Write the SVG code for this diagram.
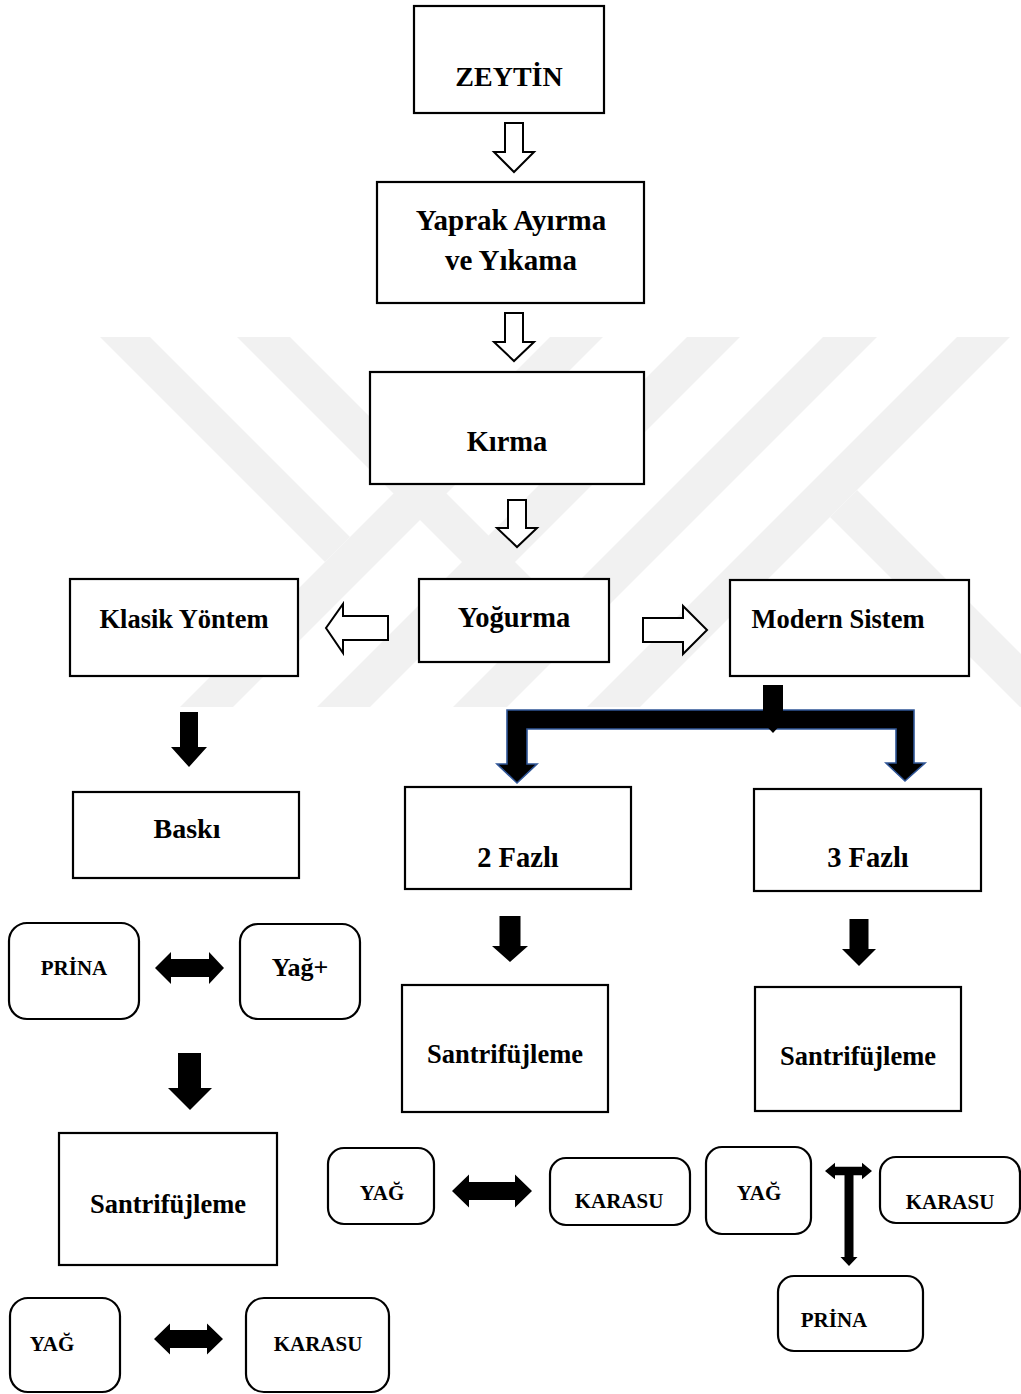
<svg xmlns="http://www.w3.org/2000/svg" width="1021" height="1394" viewBox="0 0 1021 1394">
<style>
.bx{fill:#fff;stroke:#000;stroke-width:2.2}
.rb{fill:#fff;stroke:#000;stroke-width:2.2}
.t{font-family:"Liberation Serif","Times New Roman",serif;font-weight:bold;fill:#000;text-anchor:middle}
.hol{fill:#fff;stroke:#000;stroke-width:2;stroke-linejoin:miter}
.sol{fill:#000;stroke:none}
.wm{fill:#f1f1f1}
</style>
<defs>
<clipPath id="wmclip"><rect x="0" y="337" width="1021" height="370"/></clipPath>
</defs>
<rect width="1021" height="1394" fill="#fff"/>
<g id="watermark" clip-path="url(#wmclip)">
<polygon class="wm" points="100,337 150,337 350,537 325,562"/>
<polygon class="wm" points="550,337 603,337 233,707 180,707"/>
<polygon class="wm" points="237,337 290,337 556,603 530,630"/>
<polygon class="wm" points="823,337 877,337 507,707 453,707"/>
<polygon class="wm" points="687,337 740,337 370,707 317,707"/>
<polygon class="wm" points="957,337 1010,337 640,707 587,707"/>
<polygon class="wm" points="857,490 830,517 1020,707 1074,707"/>
</g>
<g id="connectors">
<polygon class="hol" points="505,123 523,123 523,152 534,152 514,172 494,152 505,152"/>
<polygon class="hol" points="505,313 523,313 523,342 534,342 514,361 494,342 505,342"/>
<polygon class="hol" points="508,500 526,500 526,528 537,528 517,547 497,528 508,528"/>
<polygon class="hol" points="388,616 343,616 343,604 326,628 343,653 343,640 388,640"/>
<polygon class="hol" points="643,618 683,618 683,606 707,630 683,654 683,642 643,642"/>
<polygon points="507,710 914,710 914,763 925,763 905,781 886,763 896,763 896,729 527,729 527,764 537,764 517,783 497,764 507,764" fill="#000" stroke="#2f5597" stroke-width="1.6"/>
<polygon class="sol" points="763,685 783,685 783,711 793,711 773,733 752,711 763,711"/>
<polygon class="sol" points="180,712 198,712 198,747 207,747 189,767 171,747 180,747"/>
<polygon class="sol" points="155,968 171,952 171,959 209,959 209,952 224,968 209,984 209,977 171,977 171,984"/>
<polygon class="sol" points="178,1053 201,1053 201,1088 212,1088 190,1110 168,1088 178,1088"/>
<polygon class="sol" points="499.5,916 520.5,916 520.5,946 528,946 510,962 492,946 499.5,946"/>
<polygon class="sol" points="849.5,919 868.5,919 868.5,949 876,949 859,966 842,949 849.5,949"/>
<polygon class="sol" points="452,1191 469,1174.5 469,1182 515,1182 515,1174.5 532,1191 515,1207.5 515,1200 469,1200 469,1207.5"/>
<polygon class="sol" points="154,1339 170,1323.5 170,1330 207,1330 207,1323.5 223,1339 207,1354.5 207,1348 170,1348 170,1354.5"/>
<polygon class="sol" points="825,1171 835,1162.7 835,1166.8 862,1166.8 862,1162.7 872,1171 862,1179.3 862,1175.2 853.5,1175.2 853.5,1257 857.5,1257 849,1266 840.5,1257 844.5,1257 844.5,1175.2 835,1175.2 835,1179.3"/>
</g>
<g id="n-zeytin"><rect class="bx" x="414" y="6" width="190" height="107"/><text class="t" x="509" y="86" font-size="28">ZEYTİN</text></g>
<g id="n-yaprak"><rect class="bx" x="377" y="182" width="267" height="121"/><text class="t" x="511" y="230" font-size="29">Yaprak Ayırma</text><text class="t" x="511" y="270" font-size="29">ve Yıkama</text></g>
<g id="n-kirma"><rect class="bx" x="370" y="372" width="274" height="112"/><text class="t" x="507" y="451" font-size="28.5">Kırma</text></g>
<g id="n-yogurma"><rect class="bx" x="419" y="579" width="190" height="83"/><text class="t" x="514" y="627" font-size="28.5">Yoğurma</text></g>
<g id="n-klasik"><rect class="bx" x="70" y="579" width="228" height="97"/><text class="t" x="184" y="628" font-size="26.5">Klasik Yöntem</text></g>
<g id="n-modern"><rect class="bx" x="730" y="580" width="239" height="96"/><text class="t" x="838" y="628" font-size="26.5">Modern Sistem</text></g>
<g id="n-baski"><rect class="bx" x="73" y="792" width="226" height="86"/><text class="t" x="187" y="838" font-size="28">Baskı</text></g>
<g id="n-2fazli"><rect class="bx" x="405" y="787" width="226" height="102"/><text class="t" x="518" y="867" font-size="28.5">2 Fazlı</text></g>
<g id="n-3fazli"><rect class="bx" x="754" y="789" width="227" height="102"/><text class="t" x="868" y="867" font-size="28.5">3 Fazlı</text></g>
<g id="n-prina1"><rect class="rb" x="9" y="923" width="130" height="96" rx="18"/><text class="t" x="74" y="975" font-size="21">PRİNA</text></g>
<g id="n-yag-plus"><rect class="rb" x="240" y="924" width="120" height="95" rx="18"/><text class="t" x="300" y="976" font-size="26">Yağ+</text></g>
<g id="n-santri-2f"><rect class="bx" x="402" y="985" width="206" height="127"/><text class="t" x="505" y="1063" font-size="26.5">Santrifüjleme</text></g>
<g id="n-santri-3f"><rect class="bx" x="755" y="987" width="206" height="124"/><text class="t" x="858" y="1065" font-size="26.5">Santrifüjleme</text></g>
<g id="n-santri-l"><rect class="bx" x="59" y="1133" width="218" height="132"/><text class="t" x="168" y="1213" font-size="26.5">Santrifüjleme</text></g>
<g id="n-yag-2f"><rect class="rb" x="328" y="1148" width="106" height="76" rx="16"/><text class="t" x="382" y="1200" font-size="21">YAĞ</text></g>
<g id="n-karasu-2f"><rect class="rb" x="550" y="1158" width="140" height="67" rx="16"/><text class="t" x="619" y="1208" font-size="21">KARASU</text></g>
<g id="n-yag-3f"><rect class="rb" x="706" y="1147" width="105" height="87" rx="16"/><text class="t" x="759" y="1200" font-size="21">YAĞ</text></g>
<g id="n-karasu-3f"><rect class="rb" x="880" y="1157" width="140" height="66" rx="16"/><text class="t" x="950" y="1209" font-size="21">KARASU</text></g>
<g id="n-prina-3f"><rect class="rb" x="778" y="1276" width="145" height="75" rx="16"/><text class="t" x="834" y="1327" font-size="21">PRİNA</text></g>
<g id="n-yag-l"><rect class="rb" x="10" y="1298" width="110" height="94" rx="18"/><text class="t" x="52" y="1351" font-size="21">YAĞ</text></g>
<g id="n-karasu-l"><rect class="rb" x="246" y="1298" width="143" height="94" rx="18"/><text class="t" x="318" y="1351" font-size="21">KARASU</text></g>
</svg>
